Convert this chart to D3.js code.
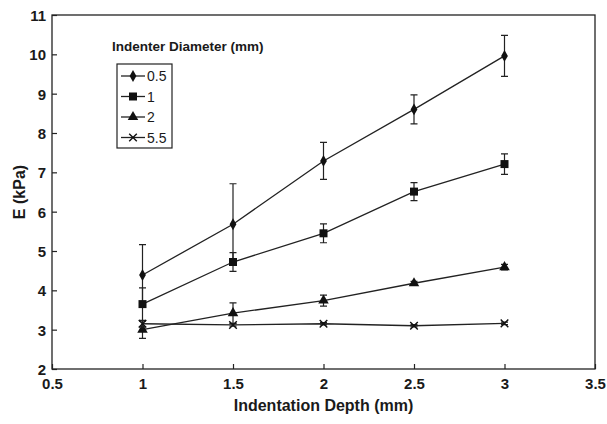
<!DOCTYPE html>
<html lang="en">
	<head>
		<meta charset="utf-8">
		<title>Indentation Modulus</title>
		<script type="text/javascript" src="https://cdn.jsdelivr.net/npm/d3@7"></script>
		<style type="text/css">
			body{
				margin: 0px;
				overflow: hidden;
				background: #fff;
			}
			text{
				font-family: "Liberation Sans", Arial, sans-serif;
				fill: #1a1a1a;
			}
			.tick line{
				stroke: #222;
				stroke-width: 1.2;
			}
			.line-path{
				fill: none;
				stroke: #222;
				stroke-width: 1.3;
			}
			.err{
				stroke: #222;
				stroke-width: 1.2;
				fill: none;
			}
		</style>
	</head>
	<body>
		<script type="text/javascript">

			// data
			var depths = [1, 1.5, 2, 2.5, 3];
			var diameters = ["0.5", "1", "2", "5.5"];
			var meanE = [
				[4.39, 5.68, 7.29, 8.60, 9.96],
				[3.65, 4.72, 5.45, 6.51, 7.21],
				[3.00, 3.42, 3.74, 4.18, 4.59],
				[3.15, 3.12, 3.15, 3.10, 3.16]
			];
			var errE = [
				[0.77, 1.03, 0.47, 0.37, 0.52],
				[0.41, 0.24, 0.24, 0.23, 0.26],
				[0.22, 0.26, 0.14, 0.05, 0.07],
				[0.08, 0.03, 0.03, 0.03, 0.03]
			];
			var xTicks = [0.5, 1, 1.5, 2, 2.5, 3, 3.5];
			var yTicks = [2, 3, 4, 5, 6, 7, 8, 9, 10, 11];
			var symbols = ["diamond", "square", "triangle", "cross"];

			var width = 607;
			var height = 424;

			const margin = { top: 15, right: 12, bottom: 55, left: 52 };
			const innerWidth = width - margin.left - margin.right;
			const innerHeight = height - margin.top - margin.bottom;

			var xScale = d3.scaleLinear()
				.domain([0.5, 3.5])
				.range([0, innerWidth]);

			var yScale = d3.scaleLinear()
				.domain([2, 11])
				.range([innerHeight, 0]);

			var svg = d3.select("body")
				.append("svg")
				.attr("width", width)
				.attr("height", height);

			const g = svg.append('g')
				.attr('transform', `translate(${margin.left},${margin.top})`);

			// frame
			g.append('rect')
				.attr('width', innerWidth)
				.attr('height', innerHeight)
				.attr('fill', 'none')
				.attr('stroke', '#222')
				.attr('stroke-width', 1.3);

			var xAxis = d3.axisBottom(xScale)
				.tickValues(xTicks)
				.tickFormat(d3.format("~g"))
				.tickSize(-5)
				.tickPadding(9.5);

			var yAxis = d3.axisLeft(yScale)
				.tickValues(yTicks)
				.tickFormat(d3.format("d"))
				.tickSize(-5)
				.tickPadding(6);

			const xAxisG = g.append('g').call(xAxis)
				.attr('transform', `translate(0, ${innerHeight})`)
				.attr('font-family', null)
				.attr('font-size', 15)
				.attr('font-weight', 'bold');
			xAxisG.selectAll('.domain').remove();
			xAxisG.selectAll('text').attr('fill', '#1a1a1a');

			const yAxisG = g.append('g').call(yAxis)
				.attr('font-family', null)
				.attr('font-size', 15)
				.attr('font-weight', 'bold');
			yAxisG.selectAll('.domain').remove();
			yAxisG.selectAll('text').attr('fill', '#1a1a1a').attr('dy', '0.36em');

			g.append('text')
				.attr('x', innerWidth / 2)
				.attr('y', innerHeight + 42)
				.attr('text-anchor', 'middle')
				.attr('font-size', 16)
				.attr('font-weight', 'bold')
				.text('Indentation Depth (mm)');

			g.append('text')
				.attr('transform', `translate(-27, ${innerHeight / 2}) rotate(-90)`)
				.attr('text-anchor', 'middle')
				.attr('font-size', 16)
				.attr('font-weight', 'bold')
				.text('E (kPa)');

			const lineGenerator = d3.line()
				.x(d => xScale(d[0]))
				.y(d => yScale(d[1]));

			function drawMarker(sel, type) {
				if (type === "cross") {
					sel.append('path')
						.attr('d', 'M-3.8,-3.8L3.8,3.8M-3.8,3.8L3.8,-3.8')
						.attr('stroke', '#111')
						.attr('stroke-width', 1.4)
						.attr('fill', 'none');
				} else {
					var sym = type === "diamond" ? d3.symbolDiamond
						: type === "square" ? d3.symbolSquare : d3.symbolTriangle;
					var size = type === "diamond" ? 40 : type === "square" ? 64 : 48;
					sel.append('path')
						.attr('d', d3.symbol().type(sym).size(size)())
						.attr('fill', '#111');
				}
			}

			meanE.forEach(function(series, s) {
				var pts = depths.map((x, i) => [x, series[i], errE[s][i]]);

				g.append('path')
					.attr('class', 'line-path')
					.attr('d', lineGenerator(pts));

				var eg = g.append('g');
				pts.forEach(function(p) {
					var x = xScale(p[0]);
					var y1 = yScale(p[1] + p[2]);
					var y2 = yScale(p[1] - p[2]);
					eg.append('path')
						.attr('class', 'err')
						.attr('d', `M${x},${y1}V${y2}M${x - 3.5},${y1}H${x + 3.5}M${x - 3.5},${y2}H${x + 3.5}`);
				});

				pts.forEach(function(p) {
					var m = g.append('g')
						.attr('transform', `translate(${xScale(p[0])},${yScale(p[1])})`);
					drawMarker(m, symbols[s]);
				});
			});

			// legend
			const lg = svg.append('g');
			lg.append('text')
				.attr('x', 112)
				.attr('y', 51)
				.attr('font-size', 13.5)
				.attr('font-weight', 'bold')
				.text('Indenter Diameter (mm)');

			lg.append('rect')
				.attr('x', 117)
				.attr('y', 64)
				.attr('width', 55)
				.attr('height', 84)
				.attr('fill', '#fff')
				.attr('stroke', '#222')
				.attr('stroke-width', 1.2);

			diameters.forEach(function(d, i) {
				var yy = 76 + i * 20.5;
				lg.append('line')
					.attr('x1', 121).attr('x2', 145)
					.attr('y1', yy).attr('y2', yy)
					.attr('stroke', '#222')
					.attr('stroke-width', 1.3);
				var m = lg.append('g').attr('transform', `translate(133,${yy})`);
				drawMarker(m, symbols[i]);
				lg.append('text')
					.attr('x', 147)
					.attr('y', yy + 5)
					.attr('font-size', 14)
					.text(d);
			});

		</script>
	</body>
</html>
